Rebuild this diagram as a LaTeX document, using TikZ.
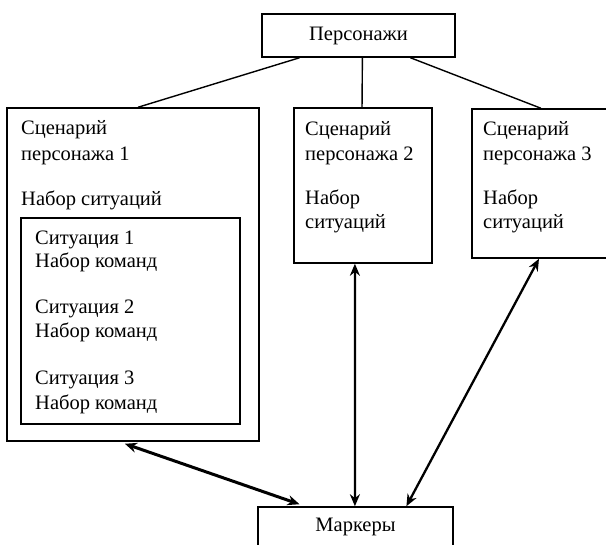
\documentclass[tikz,border=0pt]{standalone}
\usepackage{fontspec}
\setmainfont{Liberation Serif}
\usetikzlibrary{calc,arrows.meta}
\begin{document}
\begin{tikzpicture}[x=1pt,y=-1pt,
  boxn/.style={draw,line width=1.5pt,inner sep=0pt},
  txt/.style={anchor=base west,inner sep=0pt,font=\fontsize{20.5}{24}\selectfont},
  link/.style={line width=1.4pt},
  dbl/.style={{Stealth[length=12pt,width=10pt]}-{Stealth[length=12pt,width=10pt]},line width=2.3pt}]
\useasboundingbox (0,0) rectangle (606,545);
\fill[white] (0,0) rectangle (606,545);
\clip (0,0) rectangle (606,545);
% boxes
\node[boxn,minimum width=193pt,minimum height=43pt,font=\fontsize{20.5}{24}\selectfont] (pers) at (358.5,35.5) {Персонажи};
\node[boxn,minimum width=252pt,minimum height=333pt] (s1) at (133,274.5) {};
\node[boxn,minimum width=219pt,minimum height=206pt] (in1) at (130.5,321) {};
\node[boxn,minimum width=138pt,minimum height=155pt] (s2) at (363,185.5) {};
\node[boxn,minimum width=148pt,minimum height=149pt] (s3) at (546,183.5) {};
\node[boxn,minimum width=195pt,minimum height=40pt,font=\fontsize{20.5}{24}\selectfont] (mark) at (355.5,527) {Маркеры};
% texts box 1
\node[txt] (t11) at (21,135) {Сценарий};
\node[txt] (t12) at (21,161) {персонажа 1};
\node[txt] (t13) at (21,206) {Набор ситуаций};
\node[txt] (c11) at (35,245) {Ситуация 1};
\node[txt] (c12) at (35,268) {Набор команд};
\node[txt] (c21) at (35,314) {Ситуация 2};
\node[txt] (c22) at (35,338) {Набор команд};
\node[txt] (c31) at (35,385) {Ситуация 3};
\node[txt] (c32) at (35,410) {Набор команд};
% texts box 2
\node[txt] (t21) at (305,136) {Сценарий};
\node[txt] (t22) at (305,161) {персонажа 2};
\node[txt] (t23) at (305,205) {Набор};
\node[txt] (t24) at (305,229) {ситуаций};
% texts box 3
\node[txt] (t31) at (483,136) {Сценарий};
\node[txt] (t32) at (483,161) {персонажа 3};
\node[txt] (t33) at (483,205) {Набор};
\node[txt] (t34) at (483,229) {ситуаций};
% links from Персонажи
\draw[link] ($(pers.south west)!0.197!(pers.south east)$) -- ($(s1.north west)!0.52!(s1.north east)$);
\draw[link] ($(pers.south west)!0.52!(pers.south east)$) -- ($(s2.north west)!0.493!(s2.north east)$);
\draw[link] ($(pers.south west)!0.767!(pers.south east)$) -- ($(s3.north west)!0.466!(s3.north east)$);
% arrows to Маркеры
\draw[dbl,line width=3pt] ($(s1.south west)!0.468!(s1.south east)+(0,2)$) -- ($(mark.north west)!0.215!(mark.north east)+(0,-2)$);
\draw[dbl] ($(s2.south west)!0.442!(s2.south east)$) -- ($(mark.north west)!0.497!(mark.north east)$);
\draw[dbl] ($(s3.south west)!0.453!(s3.south east)$) -- ($(mark.north west)!0.759!(mark.north east)$);
\end{tikzpicture}
\end{document}
